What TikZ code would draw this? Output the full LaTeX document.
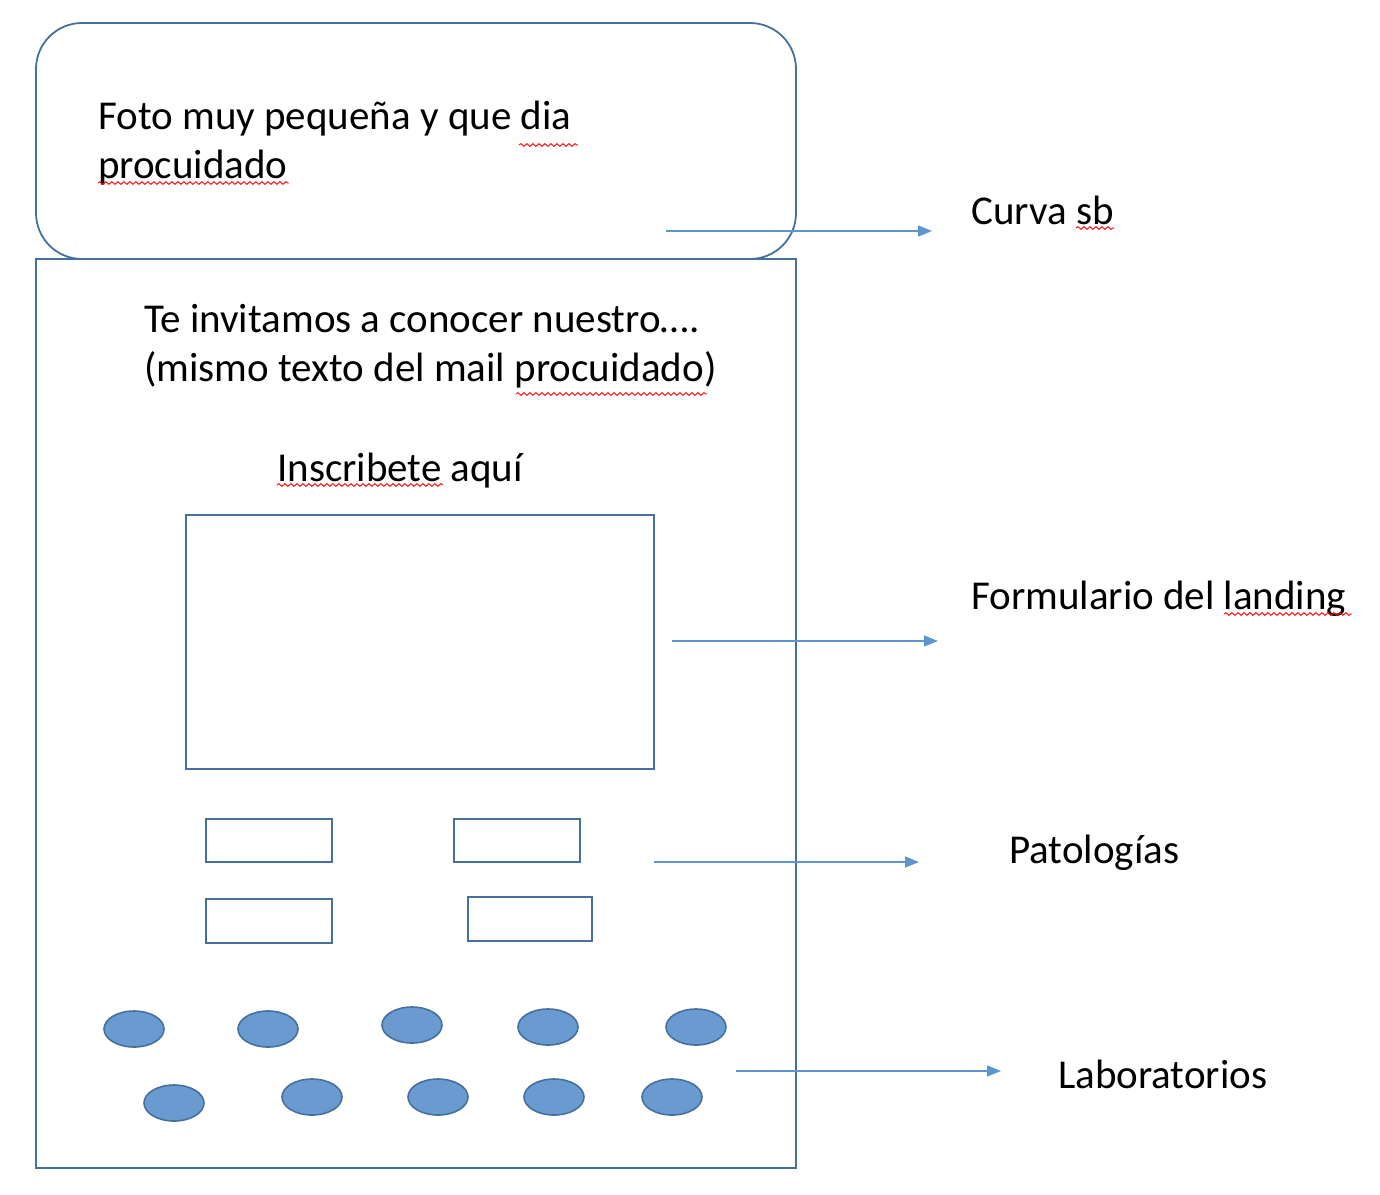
\documentclass[tikz,border=0pt]{standalone}
\usepackage{fontspec}
\setmainfont{Carlito}
\usetikzlibrary{
  arrows.meta,
  shapes.geometric,
  decorations.pathmorphing}

\definecolor{boxline}{HTML}{46709C}
\definecolor{arrowline}{HTML}{5F95CF}
\definecolor{dotfill}{HTML}{6A9BD0}

\begin{document}
\begin{tikzpicture}[x=1pt,y=-1pt]
\tikzset{
  frame/.style={draw=boxline,line width=1.8pt,inner sep=0pt},
  pill/.style={ellipse,draw=boxline,line width=1.6pt,fill=dotfill,
    minimum width=60pt,minimum height=36pt,inner sep=0pt},
  callout/.style={draw=arrowline,line width=1.4pt,
    -{Triangle[length=14pt,width=11pt]}},
  txt/.style={font=\fontsize{41}{49}\selectfont,inner sep=0pt,align=left},
  typo/.style={draw=red,line width=0.9pt,decorate,
    decoration={snake,segment length=6pt,amplitude=1.4pt}},
}
\useasboundingbox (0,0) rectangle (1380,1194);

\node[frame,rounded corners=46pt,minimum width=760pt,minimum height=236pt] (photo) at (416,141) {};
\node[frame,minimum width=760pt,minimum height=909pt] (page) at (416,713.5) {};
\node[frame,minimum width=468pt,minimum height=254pt] (form) at (420,642) {};

\node[frame,minimum width=126pt,minimum height=43pt] (tag1) at (269,840.5) {};
\node[frame,minimum width=126pt,minimum height=43pt] (tag2) at (517,840.5) {};
\node[frame,minimum width=126pt,minimum height=44pt] (tag3) at (269,921) {};
\node[frame,minimum width=124pt,minimum height=44pt] (tag4) at (530,919) {};

\foreach \x/\y [count=\k] in {134/1029,268/1029,412/1025,548/1027,696/1027,
  174/1103,312/1097,438/1097,554/1097,672/1097}
  \node[pill] (lab\k) at (\x,\y) {};

\node[txt,anchor=west] (fototxt) at (98,143) {Foto muy pequeña y que dia\\procuidado};
\node[txt,anchor=west] (invtxt) at (144,346) {Te invitamos a conocer nuestro….\\(mismo texto del mail procuidado)};
\node[txt,anchor=base west] (inscr) at (277,481) {Inscribete aquí};

\node[txt,anchor=base west] (curva) at (971,224) {Curva sb};
\node[txt,anchor=base west] (formul) at (971,609) {Formulario del landing};
\node[txt,anchor=base west] (patol) at (1009,863) {Patologías};
\node[txt,anchor=base west] (labor) at (1058,1088) {Laboratorios};

\coordinate (s1) at (666,231);
\coordinate (e1) at (932,231);
\coordinate (s2) at (672,641);
\coordinate (e2) at (938,641);
\coordinate (s3) at (654,862);
\coordinate (e3) at (919,862);
\coordinate (s4) at (736,1071);
\coordinate (e4) at (1001,1071);
\foreach \k in {1,...,4}
  \draw[callout] (s\k) -- (e\k);

% spell check marks
\draw[typo] (519,145) -- (578,145);
\draw[typo] (98,183) -- (289,183);
\draw[typo] (516,394) -- (707,394);
\draw[typo] (277,485) -- (443,485);
\draw[typo] (1076,228) -- (1114,228);
\draw[typo] (1224,614) -- (1352,614);
\end{tikzpicture}
\end{document}
